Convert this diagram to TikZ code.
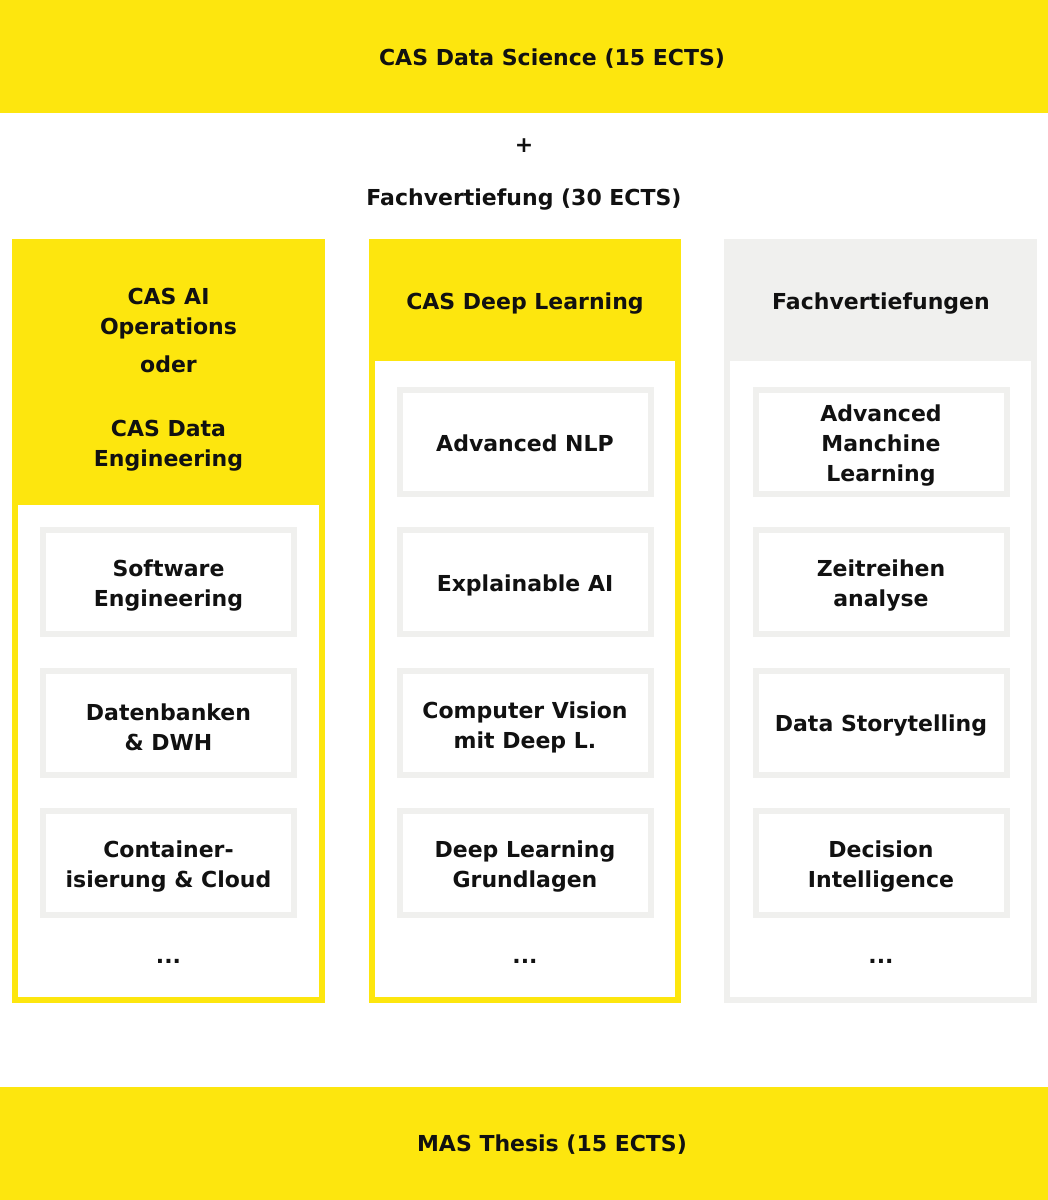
\documentclass[tikz,border=0pt]{standalone}
\usepackage{fontspec}
\setmainfont{DejaVu Sans}
\definecolor{casyellow}{RGB}{253,230,14}
\definecolor{casgrey}{RGB}{240,240,238}
\definecolor{castext}{RGB}{17,17,17}
\tikzset{
  lbl/.style={text=castext, font=\bfseries\fontsize{22}{30}\selectfont, align=center, inner sep=0pt},
  modbox/.style={draw=casgrey, line width=6pt, fill=white, minimum width=251pt, minimum height=104pt},
}
\begin{document}
\begin{tikzpicture}[x=1pt,y=-1pt]
                \useasboundingbox (0,0) rectangle (1048,1200);

                \fill[casyellow] (0,0) rectangle (1048,113);
                \fill[casyellow] (0,1087) rectangle (1048,1200);
                \fill[casyellow] (12,239) rectangle (325,1003);
                \fill[white] (18,505) rectangle (319,997);
                \fill[casyellow] (369,239) rectangle (681,1003);
                \fill[white] (375,361) rectangle (675,997);
                \fill[casgrey] (724,239) rectangle (1037,1003);
                \fill[white] (730,361) rectangle (1031,997);

                \node[lbl] (dsci) at (552,59) {CAS Data Science (15 ECTS)};
                \node[lbl] (plus) at (524,146) {+};
                \node[lbl] (fachv) at (524,200) {Fachvertiefung (30 ECTS)};
                \node[lbl] (thesis) at (552,1145) {MAS Thesis (15 ECTS)};

                \node[lbl] (aiops) at (168.5,314) {CAS AI\\Operations};
                \node[lbl] (oder) at (168.5,364) {oder};
                \node[lbl] (dataeng) at (168.5,446) {CAS Data\\Engineering};
                \node[lbl] (deepl) at (525,304) {CAS Deep Learning};
                \node[lbl] (fachvs) at (881,304) {Fachvertiefungen};

                \node[modbox] (sweng) at (168.5,582) {};
                \node[modbox] (dbdwh) at (168.5,723) {};
                \node[modbox] (cloud) at (168.5,863) {};
                \node[lbl] (swengtxt) at ([yshift=-4pt]sweng.center) {Software\\Engineering};
                \node[lbl] (dbdwhtxt) at ([yshift=-4pt]dbdwh.center) {Datenbanken\\\& DWH};
                \node[lbl] (cloudtxt) at ([yshift=-4pt]cloud.center) {Container-\\isierung \& Cloud};
                \node[lbl] (dotsa) at (168.5,961) {...};

                \node[modbox] (nlp) at (525,442) {};
                \node[modbox] (xai) at (525,582) {};
                \node[modbox] (cvis) at (525,723) {};
                \node[modbox] (dlgrund) at (525,863) {};
                \node[lbl] (nlptxt) at ([yshift=-1pt]nlp.center) {Advanced NLP};
                \node[lbl] (xaitxt) at ([yshift=-3pt]xai.center) {Explainable AI};
                \node[lbl] (cvistxt) at ([yshift=-4pt]cvis.center) {Computer Vision\\mit Deep L.};
                \node[lbl] (dlgrundtxt) at ([yshift=-4pt]dlgrund.center) {Deep Learning\\Grundlagen};
                \node[lbl] (dotsb) at (525,961) {...};

                \node[modbox] (aml) at (881,442) {};
                \node[modbox] (zeitr) at (881,582) {};
                \node[modbox] (story) at (881,723) {};
                \node[modbox] (decint) at (881,863) {};
                \node[lbl] (amltxt) at ([yshift=-4pt]aml.center) {Advanced\\Manchine\\Learning};
                \node[lbl] (zeitrtxt) at ([yshift=-4pt]zeitr.center) {Zeitreihen\\analyse};
                \node[lbl] (storytxt) at ([yshift=-3pt]story.center) {Data Storytelling};
                \node[lbl] (decinttxt) at ([yshift=-4pt]decint.center) {Decision\\Intelligence};
                \node[lbl] (dotsc) at (881,961) {...};
\end{tikzpicture}
\end{document}
